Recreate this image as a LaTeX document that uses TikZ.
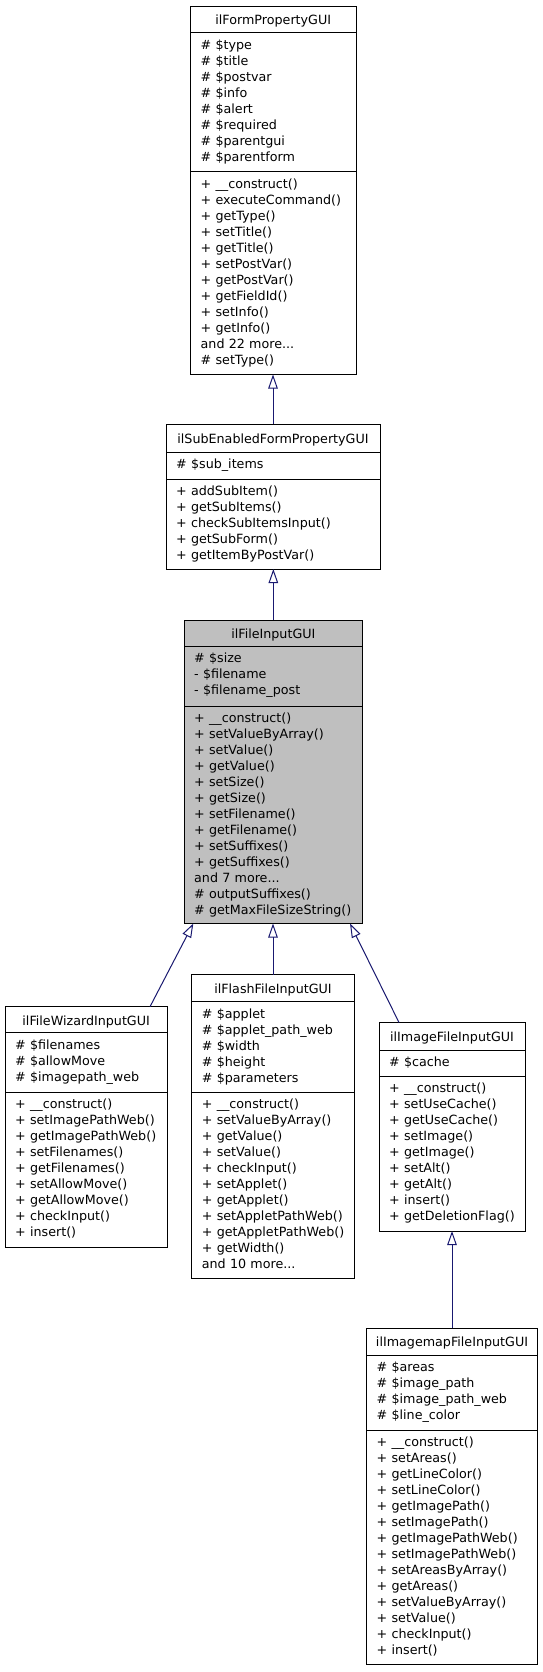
\documentclass[tikz,border=0pt]{standalone}
\usepackage{fontspec}
\setmainfont{DejaVu Sans}
\usetikzlibrary{arrows.meta,calc}
\definecolor{navy}{RGB}{25,25,112}
\definecolor{hilite}{RGB}{191,191,191}
\newcommand\umlbox[8]{%
  \node[cls, fill=#8, anchor=north west, minimum width={#3-#2}, minimum height={#7-#4}] (#1) at (#2,#4) {};
  \draw[sepline] (#2,#5) -- (#3,#5);
  \draw[sepline] (#2,#6) -- (#3,#6);
}
\begin{document}
\begin{tikzpicture}[x=1pt,y=-1pt,
  cls/.style={draw=black, line width=1pt, rectangle, inner sep=0pt, outer sep=0pt},
  sepline/.style={draw=black, line width=1pt},
  ttl/.style={font=\fontsize{12.7pt}{16pt}\selectfont, inner sep=0pt, anchor=base},
  txt/.style={font=\fontsize{12.7pt}{16pt}\selectfont, inner sep=0pt, anchor=base west, text width=200pt, align=left},
  inh/.style={draw=navy, line width=1pt, -{Triangle[open, length=14pt, width=9.5pt, line width=1pt]}}]
\fill[white] (0,0) rectangle (543,1672);
\useasboundingbox (0,0) rectangle (543,1672);

% ilFormPropertyGUI
\umlbox{fp}{190.5}{356}{6.5}{33}{172}{374.5}{white}
\node[ttl] (fpt) at (273.25,25) {ilFormPropertyGUI};
\node[txt] (fpa) at (200.5,49.5) {\# \$type\\\# \$title\\\# \$postvar\\\# \$info\\\# \$alert\\\# \$required\\\# \$parentgui\\\# \$parentform};
\node[txt] (fpm) at (200.5,188.5) {+ \_\_construct()\\+ executeCommand()\\+ getType()\\+ setTitle()\\+ getTitle()\\+ setPostVar()\\+ getPostVar()\\+ getFieldId()\\+ setInfo()\\+ getInfo()\\and 22 more...\\\# setType()};

% ilSubEnabledFormPropertyGUI
\umlbox{sub}{166}{380}{424.3}{452}{479}{569}{white}
\node[ttl] (subt) at (273,443) {ilSubEnabledFormPropertyGUI};
\node[txt] (suba) at (176,468.5) {\# \$sub\_items};
\node[txt] (subm) at (176,495.5) {+ addSubItem()\\+ getSubItems()\\+ checkSubItemsInput()\\+ getSubForm()\\+ getItemByPostVar()};

% ilFileInputGUI
\umlbox{file}{184}{362.7}{620}{646}{706}{923.5}{hilite}
\node[ttl] (filet) at (273.35,638.5) {ilFileInputGUI};
\node[txt] (filea) at (194,662.5) {\# \$size\\- \$filename\\- \$filename\_post};
\node[txt] (filem) at (194,722.5) {+ \_\_construct()\\+ setValueByArray()\\+ setValue()\\+ getValue()\\+ setSize()\\+ getSize()\\+ setFilename()\\+ getFilename()\\+ setSuffixes()\\+ getSuffixes()\\and 7 more...\\\# outputSuffixes()\\\# getMaxFileSizeString()};

% ilFileWizardInputGUI
\umlbox{wiz}{5}{167.3}{1006.7}{1032.7}{1092.3}{1247}{white}
\node[ttl] (wizt) at (86.15,1025.2) {ilFileWizardInputGUI};
\node[txt] (wiza) at (15,1049.2) {\# \$filenames\\\# \$allowMove\\\# \$imagepath\_web};
\node[txt] (wizm) at (15,1108.8) {+ \_\_construct()\\+ setImagePathWeb()\\+ getImagePathWeb()\\+ setFilenames()\\+ getFilenames()\\+ setAllowMove()\\+ getAllowMove()\\+ checkInput()\\+ insert()};

% ilFlashFileInputGUI
\umlbox{flash}{191.7}{354.3}{974.5}{1001.5}{1092.3}{1278}{white}
\node[ttl] (flasht) at (273,993) {ilFlashFileInputGUI};
\node[txt] (flasha) at (201.7,1018) {\# \$applet\\\# \$applet\_path\_web\\\# \$width\\\# \$height\\\# \$parameters};
\node[txt] (flashm) at (201.7,1108.8) {+ \_\_construct()\\+ setValueByArray()\\+ getValue()\\+ setValue()\\+ checkInput()\\+ setApplet()\\+ getApplet()\\+ setAppletPathWeb()\\+ getAppletPathWeb()\\+ getWidth()\\and 10 more...};

% ilImageFileInputGUI
\umlbox{img}{379}{525}{1022.5}{1050}{1076}{1231}{white}
\node[ttl] (imgt) at (452,1041) {ilImageFileInputGUI};
\node[txt] (imga) at (389,1066.5) {\# \$cache};
\node[txt] (imgm) at (389,1092.5) {+ \_\_construct()\\+ setUseCache()\\+ getUseCache()\\+ setImage()\\+ getImage()\\+ setAlt()\\+ getAlt()\\+ insert()\\+ getDeletionFlag()};

% ilImagemapFileInputGUI
\umlbox{map}{366.5}{537.5}{1328.3}{1355}{1430}{1664}{white}
\node[ttl] (mapt) at (452,1346.8) {ilImagemapFileInputGUI};
\node[txt] (mapa) at (376.5,1371.5) {\# \$areas\\\# \$image\_path\\\# \$image\_path\_web\\\# \$line\_color};
\node[txt] (mapm) at (376.5,1446.5) {+ \_\_construct()\\+ setAreas()\\+ getLineColor()\\+ setLineColor()\\+ getImagePath()\\+ setImagePath()\\+ getImagePathWeb()\\+ setImagePathWeb()\\+ setAreasByArray()\\+ getAreas()\\+ setValueByArray()\\+ setValue()\\+ checkInput()\\+ insert()};

% inheritance connectors
\draw[inh] (sub.north) -- (sub.north |- fp.south);
\draw[inh] (file.north) -- (file.north |- sub.south);
\draw[inh] (flash.north) -- (flash.north |- file.south);
\draw[inh] ($(wiz.north east)+(-17.3,0)$) -- ($(file.south west)+(9.3,0)$);
\draw[inh] ($(img.north west)+(20,0)$) -- ($(file.south east)+(-12.7,0)$);
\draw[inh] (map.north -| img.south) -- (img.south);
\end{tikzpicture}
\end{document}
